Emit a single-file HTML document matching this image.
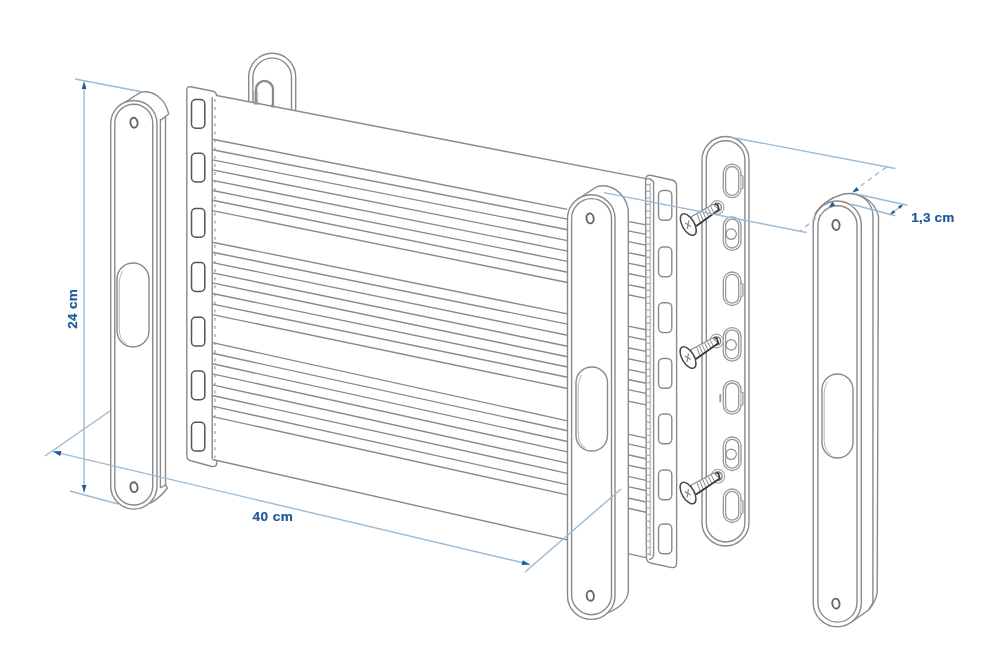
<!DOCTYPE html>
<html><head><meta charset="utf-8"><style>
html,body{margin:0;padding:0;background:#fff;}
svg{display:block;filter:blur(0.3px);}
</style></head><body>
<svg width="1000" height="663" viewBox="0 0 1000 663">
<rect width="1000" height="663" fill="#fff"/>
<line x1="216.5" y1="95.47" x2="646" y2="178.58" stroke="#8a8a8a" stroke-width="1.4" fill="none"/>
<line x1="212.5" y1="139.2" x2="567.5" y2="209.4" stroke="#8a8a8a" stroke-width="1.4" fill="none"/>
<line x1="628" y1="221.36" x2="646" y2="224.92" stroke="#8a8a8a" stroke-width="1.4" fill="none"/>
<line x1="212.5" y1="149.8" x2="567.5" y2="219.1" stroke="#8a8a8a" stroke-width="1.4" fill="none"/>
<line x1="628" y1="230.91" x2="646" y2="234.42" stroke="#8a8a8a" stroke-width="1.4" fill="none"/>
<line x1="212.5" y1="159.9" x2="567.5" y2="229.7" stroke="#8a8a8a" stroke-width="1.4" fill="none"/>
<line x1="628" y1="241.59" x2="646" y2="245.13" stroke="#8a8a8a" stroke-width="1.4" fill="none"/>
<line x1="212.5" y1="169.9" x2="567.5" y2="240.6" stroke="#8a8a8a" stroke-width="1.4" fill="none"/>
<line x1="628" y1="252.65" x2="646" y2="256.23" stroke="#8a8a8a" stroke-width="1.4" fill="none"/>
<line x1="212.5" y1="180.4" x2="567.5" y2="251.1" stroke="#8a8a8a" stroke-width="1.4" fill="none"/>
<line x1="628" y1="263.15" x2="646" y2="266.73" stroke="#8a8a8a" stroke-width="1.4" fill="none"/>
<line x1="212.5" y1="190.5" x2="567.5" y2="261.4" stroke="#8a8a8a" stroke-width="1.4" fill="none"/>
<line x1="628" y1="273.48" x2="646" y2="277.08" stroke="#8a8a8a" stroke-width="1.4" fill="none"/>
<line x1="212.5" y1="200.3" x2="567.5" y2="272.3" stroke="#8a8a8a" stroke-width="1.4" fill="none"/>
<line x1="628" y1="284.57" x2="646" y2="288.22" stroke="#8a8a8a" stroke-width="1.4" fill="none"/>
<line x1="212.5" y1="210.6" x2="567.5" y2="282.5" stroke="#8a8a8a" stroke-width="1.4" fill="none"/>
<line x1="628" y1="294.76" x2="646" y2="298.4" stroke="#8a8a8a" stroke-width="1.4" fill="none"/>
<line x1="212.5" y1="242.2" x2="567.5" y2="313.9" stroke="#8a8a8a" stroke-width="1.4" fill="none"/>
<line x1="628" y1="326.12" x2="646" y2="329.76" stroke="#8a8a8a" stroke-width="1.4" fill="none"/>
<line x1="212.5" y1="252.3" x2="567.5" y2="324.1" stroke="#8a8a8a" stroke-width="1.4" fill="none"/>
<line x1="628" y1="336.34" x2="646" y2="339.98" stroke="#8a8a8a" stroke-width="1.4" fill="none"/>
<line x1="212.5" y1="262.6" x2="567.5" y2="335.3" stroke="#8a8a8a" stroke-width="1.4" fill="none"/>
<line x1="628" y1="347.69" x2="646" y2="351.38" stroke="#8a8a8a" stroke-width="1.4" fill="none"/>
<line x1="212.5" y1="272.9" x2="567.5" y2="346.2" stroke="#8a8a8a" stroke-width="1.4" fill="none"/>
<line x1="628" y1="358.7" x2="646" y2="362.41" stroke="#8a8a8a" stroke-width="1.4" fill="none"/>
<line x1="212.5" y1="282.9" x2="567.5" y2="356.8" stroke="#8a8a8a" stroke-width="1.4" fill="none"/>
<line x1="628" y1="369.4" x2="646" y2="373.15" stroke="#8a8a8a" stroke-width="1.4" fill="none"/>
<line x1="212.5" y1="293.5" x2="567.5" y2="367" stroke="#8a8a8a" stroke-width="1.4" fill="none"/>
<line x1="628" y1="379.53" x2="646" y2="383.26" stroke="#8a8a8a" stroke-width="1.4" fill="none"/>
<line x1="212.5" y1="304.1" x2="567.5" y2="377.2" stroke="#8a8a8a" stroke-width="1.4" fill="none"/>
<line x1="628" y1="389.66" x2="646" y2="393.37" stroke="#8a8a8a" stroke-width="1.4" fill="none"/>
<line x1="212.5" y1="314.6" x2="567.5" y2="388.5" stroke="#8a8a8a" stroke-width="1.4" fill="none"/>
<line x1="628" y1="401.1" x2="646" y2="404.85" stroke="#8a8a8a" stroke-width="1.4" fill="none"/>
<line x1="212.5" y1="342.69" x2="567.5" y2="420.81" stroke="#8a8a8a" stroke-width="1.4" fill="none"/>
<line x1="628" y1="434.12" x2="646" y2="438.08" stroke="#8a8a8a" stroke-width="1.4" fill="none"/>
<line x1="212.5" y1="353.29" x2="567.5" y2="430.71" stroke="#8a8a8a" stroke-width="1.4" fill="none"/>
<line x1="628" y1="443.9" x2="646" y2="447.83" stroke="#8a8a8a" stroke-width="1.4" fill="none"/>
<line x1="212.5" y1="363.79" x2="567.5" y2="441.51" stroke="#8a8a8a" stroke-width="1.4" fill="none"/>
<line x1="628" y1="454.75" x2="646" y2="458.7" stroke="#8a8a8a" stroke-width="1.4" fill="none"/>
<line x1="212.5" y1="373.89" x2="567.5" y2="451.81" stroke="#8a8a8a" stroke-width="1.4" fill="none"/>
<line x1="628" y1="465.09" x2="646" y2="469.04" stroke="#8a8a8a" stroke-width="1.4" fill="none"/>
<line x1="212.5" y1="384.89" x2="567.5" y2="463.11" stroke="#8a8a8a" stroke-width="1.4" fill="none"/>
<line x1="628" y1="476.44" x2="646" y2="480.41" stroke="#8a8a8a" stroke-width="1.4" fill="none"/>
<line x1="212.5" y1="395.49" x2="567.5" y2="473.31" stroke="#8a8a8a" stroke-width="1.4" fill="none"/>
<line x1="628" y1="486.57" x2="646" y2="490.52" stroke="#8a8a8a" stroke-width="1.4" fill="none"/>
<line x1="212.5" y1="406.09" x2="567.5" y2="484.61" stroke="#8a8a8a" stroke-width="1.4" fill="none"/>
<line x1="628" y1="497.99" x2="646" y2="501.97" stroke="#8a8a8a" stroke-width="1.4" fill="none"/>
<line x1="212.5" y1="416.59" x2="567.5" y2="494.91" stroke="#8a8a8a" stroke-width="1.4" fill="none"/>
<line x1="628" y1="508.26" x2="646" y2="512.23" stroke="#8a8a8a" stroke-width="1.4" fill="none"/>
<line x1="212.5" y1="459.49" x2="567.5" y2="539.86" stroke="#8a8a8a" stroke-width="1.4" fill="none"/>
<line x1="628" y1="553.56" x2="646" y2="557.63" stroke="#8a8a8a" stroke-width="1.4" fill="none"/>
<line x1="212.2" y1="97" x2="212.2" y2="459" stroke="#8a8a8a" stroke-width="1.4" fill="none"/>
<line x1="214.9" y1="99" x2="214.9" y2="458" stroke="#999" stroke-width="1.2" fill="none" stroke-dasharray="3,5.1"/>
<path d="M248.7,102 L248.7,76.8 A23.5,23.5 0 0 1 295.7,76.8 L295.7,110.6" stroke="#8a8a8a" stroke-width="1.4" fill="none"/>
<path d="M252.9,102.8 L252.9,77.4 A19.3,19.3 0 0 1 291.5,77.4 L291.5,110" stroke="#8a8a8a" stroke-width="1.4" fill="none"/>
<path d="M256.2,104.5 L256.2,89.4 A8.3,8.3 0 0 1 272.8,89.4 L272.8,107.5" stroke="#8a8a8a" stroke-width="2.6" fill="none"/>
<path d="M257.6,101.5 L257.6,89.4 A6.9,6.9 0 0 1 271.4,89.4 L271.4,104" stroke="#fff" stroke-width="0.8" fill="none"/>
<line x1="254" y1="91" x2="254" y2="104.5" stroke="#999" stroke-width="0.6"/>
<line x1="255.2" y1="91.3" x2="255.2" y2="104.5" stroke="#999" stroke-width="0.6"/>
<line x1="256.4" y1="91.6" x2="256.4" y2="104.5" stroke="#999" stroke-width="0.6"/>
<line x1="257.6" y1="91.9" x2="257.6" y2="104.5" stroke="#999" stroke-width="0.6"/>
<path d="M186.8,90 Q186.8,86.2 190.5,86.8 L212,91 Q216.6,92 216.6,96" stroke="#8a8a8a" stroke-width="1.4" fill="none"/>
<path d="M186.8,90 L186.8,455.5 Q186.8,459.8 190.8,460.8 L211,466.2 Q216.6,467.5 216.6,463.4 L216.6,460" stroke="#8a8a8a" stroke-width="1.4" fill="none"/>
<rect x="191.5" y="99.5" width="13.3" height="28.8" rx="4.2" stroke="#555" stroke-width="1.5" fill="none"/>
<rect x="191.5" y="153.2" width="13.3" height="28.8" rx="4.2" stroke="#555" stroke-width="1.5" fill="none"/>
<rect x="191.5" y="208.5" width="13.3" height="28.8" rx="4.2" stroke="#555" stroke-width="1.5" fill="none"/>
<rect x="191.5" y="262.6" width="13.3" height="28.8" rx="4.2" stroke="#555" stroke-width="1.5" fill="none"/>
<rect x="191.5" y="317.3" width="13.3" height="28.8" rx="4.2" stroke="#555" stroke-width="1.5" fill="none"/>
<rect x="191.5" y="371" width="13.3" height="28.8" rx="4.2" stroke="#555" stroke-width="1.5" fill="none"/>
<rect x="191.5" y="422.3" width="13.3" height="28.8" rx="4.2" stroke="#555" stroke-width="1.5" fill="none"/>
<path d="M125.4,102 L140.4,92.5 C151,89.5 165,97 168.7,114 L160.4,120.4" stroke="#8a8a8a" stroke-width="1.4" fill="none"/>
<line x1="160.4" y1="119" x2="160.4" y2="488" stroke="#8a8a8a" stroke-width="1.4" fill="none"/>
<line x1="165.5" y1="117" x2="165.5" y2="485.5" stroke="#8a8a8a" stroke-width="1.4" fill="none"/>
<path d="M160.4,488 L165.7,485 L167.3,488 Q161,497 150,503.5" stroke="#8a8a8a" stroke-width="1.4" fill="none"/>
<path d="M110.7,123.65 A23.15,23.15 0 0 1 157,123.65 L157,485.95 A23.15,23.15 0 0 1 110.7,485.95 Z" stroke="#8a8a8a" stroke-width="1.4" fill="none"/>
<path d="M114.8,123.15 A18.95,18.95 0 0 1 152.7,123.15 L152.7,486.05 A18.95,18.95 0 0 1 114.8,486.05 Z" stroke="#8a8a8a" stroke-width="1.4" fill="none"/>
<path d="M117,279 A16,16 0 0 1 149,279 L149,331 A16,16 0 0 1 117,331 Z" stroke="#8a8a8a" stroke-width="1.4" fill="none"/>
<path d="M122.6,271.0 Q119.2,277.4 119.2,283.0 L119.2,329.0 Q119.6,340.6 126.6,343.8" stroke="#b5b5b5" stroke-width="1" fill="none"/>
<ellipse cx="134" cy="122.7" rx="3.6" ry="5.0" transform="rotate(-8 134 122.7)" stroke="#666" stroke-width="1.9" fill="none"/>
<ellipse cx="134" cy="487.2" rx="3.6" ry="5.0" transform="rotate(-8 134 487.2)" stroke="#666" stroke-width="1.9" fill="none"/>
<rect x="567.5" y="190" width="60" height="425" fill="#fff"/>
<path d="M582.5,196 L597,186.6 C610,183 625,192 628.3,209.8 L628.3,591.5 C627.5,600 620,608 606.8,613.2" stroke="#8a8a8a" stroke-width="1.4" fill="none"/>
<path d="M567.5,218.55 A23.75,23.75 0 0 1 615,218.55 L615,595.65 A23.75,23.75 0 0 1 567.5,595.65 Z" stroke="#8a8a8a" stroke-width="1.4" fill="none"/>
<path d="M571.6,218.55 A19.95,19.95 0 0 1 611.5,218.55 L611.5,594.75 A19.95,19.95 0 0 1 571.6,594.75 Z" stroke="#8a8a8a" stroke-width="1.4" fill="none"/>
<path d="M576,382.75 A15.75,15.75 0 0 1 607.5,382.75 L607.5,435.25 A15.75,15.75 0 0 1 576,435.25 Z" stroke="#8a8a8a" stroke-width="1.4" fill="none"/>
<path d="M581.5,374.9 Q578.2,381.2 578.2,386.8 L578.2,433.2 Q578.6,444.7 585.5,447.9" stroke="#b5b5b5" stroke-width="1" fill="none"/>
<ellipse cx="590.1" cy="218.4" rx="3.6" ry="5.0" transform="rotate(-8 590.1 218.4)" stroke="#666" stroke-width="1.9" fill="none"/>
<ellipse cx="590.3" cy="595.8" rx="3.6" ry="5.0" transform="rotate(-8 590.3 595.8)" stroke="#666" stroke-width="1.9" fill="none"/>
<path d="M645.6,180 Q645.6,174.8 650.5,175.3 L672,180 Q676.6,181 676.6,186 L676.6,563 Q676.6,568.2 671.7,567.6 L650.5,563 Q646.4,562 646.4,557 Z" fill="#fff" stroke="#8a8a8a" stroke-width="1.4" fill="none"/>
<line x1="650.2" y1="183" x2="650.2" y2="556" stroke="#aaa" stroke-width="1.1"/>
<line x1="648" y1="184" x2="648" y2="556" stroke="#b0b0b0" stroke-width="4" stroke-dasharray="1.3,5.3"/>
<path d="M645.6,180 Q649,176.5 653.6,182 L653.6,554 Q653.6,559 649,559.5" stroke="#8a8a8a" stroke-width="1.4" fill="none"/>
<rect x="658.5" y="190.5" width="13.3" height="29.8" rx="4.5" stroke="#8a8a8a" stroke-width="1.4" fill="none"/>
<rect x="658.5" y="247" width="13.3" height="29.8" rx="4.5" stroke="#8a8a8a" stroke-width="1.4" fill="none"/>
<rect x="658.5" y="302.8" width="13.3" height="29.8" rx="4.5" stroke="#8a8a8a" stroke-width="1.4" fill="none"/>
<rect x="658.5" y="358.5" width="13.3" height="29.8" rx="4.5" stroke="#8a8a8a" stroke-width="1.4" fill="none"/>
<rect x="658.5" y="414" width="13.3" height="29.8" rx="4.5" stroke="#8a8a8a" stroke-width="1.4" fill="none"/>
<rect x="658.5" y="470" width="13.3" height="29.8" rx="4.5" stroke="#8a8a8a" stroke-width="1.4" fill="none"/>
<rect x="658.5" y="524" width="13.3" height="29.8" rx="4.5" stroke="#8a8a8a" stroke-width="1.4" fill="none"/>
<path d="M702,160 A23.5,23.5 0 0 1 749,160 L749,522.5 A23.5,23.5 0 0 1 702,522.5 Z" stroke="#8a8a8a" stroke-width="1.4" fill="none"/>
<path d="M706.3,160 A19.3,19.3 0 0 1 744.9,160 L744.9,522.7 A19.3,19.3 0 0 1 706.3,522.7 Z" stroke="#8a8a8a" stroke-width="1.4" fill="none"/>
<path d="M723.3,173.05 A8.85,8.85 0 0 1 741,173.05 L741,188.85 A8.85,8.85 0 0 1 723.3,188.85 Z" stroke="#999" stroke-width="1.3" fill="none"/>
<path d="M725.6,173.05 A6.55,6.55 0 0 1 738.7,173.05 L738.7,188.85 A6.55,6.55 0 0 1 725.6,188.85 Z" stroke="#999" stroke-width="1.3" fill="none"/>
<path d="M740.5,175.2 L743,176.2 L743,188.2 L740.5,189.2" stroke="#999" stroke-width="1.1" fill="#ddd"/>
<path d="M723.3,225.65 A8.85,8.85 0 0 1 741,225.65 L741,241.45 A8.85,8.85 0 0 1 723.3,241.45 Z" stroke="#999" stroke-width="1.3" fill="none"/>
<path d="M725.6,225.65 A6.55,6.55 0 0 1 738.7,225.65 L738.7,241.45 A6.55,6.55 0 0 1 725.6,241.45 Z" stroke="#999" stroke-width="1.3" fill="none"/>
<circle cx="731.2" cy="234.1" r="5.2" stroke="#8c8c8c" stroke-width="1.2" fill="none"/>
<path d="M723.3,280.85 A8.85,8.85 0 0 1 741,280.85 L741,296.65 A8.85,8.85 0 0 1 723.3,296.65 Z" stroke="#999" stroke-width="1.3" fill="none"/>
<path d="M725.6,280.85 A6.55,6.55 0 0 1 738.7,280.85 L738.7,296.65 A6.55,6.55 0 0 1 725.6,296.65 Z" stroke="#999" stroke-width="1.3" fill="none"/>
<path d="M740.5,283 L743,284 L743,296 L740.5,297" stroke="#999" stroke-width="1.1" fill="#ddd"/>
<path d="M723.3,336.45 A8.85,8.85 0 0 1 741,336.45 L741,352.25 A8.85,8.85 0 0 1 723.3,352.25 Z" stroke="#999" stroke-width="1.3" fill="none"/>
<path d="M725.6,336.45 A6.55,6.55 0 0 1 738.7,336.45 L738.7,352.25 A6.55,6.55 0 0 1 725.6,352.25 Z" stroke="#999" stroke-width="1.3" fill="none"/>
<circle cx="731.2" cy="344.9" r="5.2" stroke="#8c8c8c" stroke-width="1.2" fill="none"/>
<path d="M723.3,389.55 A8.85,8.85 0 0 1 741,389.55 L741,405.35 A8.85,8.85 0 0 1 723.3,405.35 Z" stroke="#999" stroke-width="1.3" fill="none"/>
<path d="M725.6,389.55 A6.55,6.55 0 0 1 738.7,389.55 L738.7,405.35 A6.55,6.55 0 0 1 725.6,405.35 Z" stroke="#999" stroke-width="1.3" fill="none"/>
<path d="M740.5,391.7 L743,392.7 L743,404.7 L740.5,405.7" stroke="#999" stroke-width="1.1" fill="#ddd"/>
<path d="M723.3,445.85 A8.85,8.85 0 0 1 741,445.85 L741,461.65 A8.85,8.85 0 0 1 723.3,461.65 Z" stroke="#999" stroke-width="1.3" fill="none"/>
<path d="M725.6,445.85 A6.55,6.55 0 0 1 738.7,445.85 L738.7,461.65 A6.55,6.55 0 0 1 725.6,461.65 Z" stroke="#999" stroke-width="1.3" fill="none"/>
<circle cx="731.2" cy="454.3" r="5.2" stroke="#8c8c8c" stroke-width="1.2" fill="none"/>
<path d="M723.3,497.85 A8.85,8.85 0 0 1 741,497.85 L741,513.65 A8.85,8.85 0 0 1 723.3,513.65 Z" stroke="#999" stroke-width="1.3" fill="none"/>
<path d="M725.6,497.85 A6.55,6.55 0 0 1 738.7,497.85 L738.7,513.65 A6.55,6.55 0 0 1 725.6,513.65 Z" stroke="#999" stroke-width="1.3" fill="none"/>
<path d="M740.5,500 L743,501 L743,513 L740.5,514" stroke="#999" stroke-width="1.1" fill="#ddd"/>
<path d="M720.3,394 L720.3,402.4" stroke="#999" stroke-width="1.8"/>
<circle cx="717.2" cy="207.4" r="6.8" stroke="#aaa" stroke-width="1.2" fill="#fff"/>
<circle cx="717.2" cy="207.4" r="4.2" stroke="#777" stroke-width="1.3" fill="none"/>
<path d="M690.8,217 L713.2,204.2 L719,209.6 L696.3,226 Z" fill="#fff" stroke="#888" stroke-width="1.1"/>
<line x1="697.23" y1="214.18" x2="700.29" y2="222.39" stroke="#888" stroke-width="1"/>
<line x1="699.92" y1="212.65" x2="703.02" y2="220.42" stroke="#888" stroke-width="1"/>
<line x1="702.6" y1="211.11" x2="705.74" y2="218.46" stroke="#888" stroke-width="1"/>
<line x1="705.29" y1="209.58" x2="708.47" y2="216.49" stroke="#888" stroke-width="1"/>
<line x1="707.98" y1="208.04" x2="711.19" y2="214.52" stroke="#888" stroke-width="1"/>
<line x1="710.67" y1="206.5" x2="713.91" y2="212.55" stroke="#888" stroke-width="1"/>
<path d="M696.3,226 L719,209.6 L717.7,204.9 L715.2,203.9" stroke="#333" stroke-width="1.6" fill="none"/>
<ellipse cx="688.3" cy="224.5" rx="6" ry="12" transform="rotate(-30 688.3 224.5)" fill="#fff" stroke="#4a4a4a" stroke-width="1.5"/>
<path d="M685.1,223 L691.1,226.5 M688.8,220.5 L687.3,229" stroke="#888" stroke-width="1.3"/>
<circle cx="716.5" cy="341" r="6.8" stroke="#aaa" stroke-width="1.2" fill="#fff"/>
<circle cx="716.5" cy="341" r="4.2" stroke="#777" stroke-width="1.3" fill="none"/>
<path d="M690.5,350 L712.5,337.8 L718.3,343.2 L696,359 Z" fill="#fff" stroke="#888" stroke-width="1.1"/>
<line x1="696.84" y1="347.32" x2="699.91" y2="355.52" stroke="#888" stroke-width="1"/>
<line x1="699.48" y1="345.85" x2="702.58" y2="353.63" stroke="#888" stroke-width="1"/>
<line x1="702.12" y1="344.39" x2="705.26" y2="351.73" stroke="#888" stroke-width="1"/>
<line x1="704.76" y1="342.92" x2="707.93" y2="349.84" stroke="#888" stroke-width="1"/>
<line x1="707.4" y1="341.46" x2="710.61" y2="347.94" stroke="#888" stroke-width="1"/>
<line x1="710.04" y1="340" x2="713.29" y2="346.04" stroke="#888" stroke-width="1"/>
<path d="M696,359 L718.3,343.2 L717,338.5 L714.5,337.5" stroke="#333" stroke-width="1.6" fill="none"/>
<ellipse cx="688" cy="357.5" rx="6" ry="12" transform="rotate(-30 688 357.5)" fill="#fff" stroke="#4a4a4a" stroke-width="1.5"/>
<path d="M684.8,356 L690.8,359.5 M688.5,353.5 L687,362" stroke="#888" stroke-width="1.3"/>
<circle cx="718" cy="476.2" r="6.8" stroke="#aaa" stroke-width="1.2" fill="#fff"/>
<circle cx="718" cy="476.2" r="4.2" stroke="#777" stroke-width="1.3" fill="none"/>
<path d="M690.5,485.5 L714,473 L719.8,478.4 L696,494.5 Z" fill="#fff" stroke="#888" stroke-width="1.1"/>
<line x1="697.17" y1="482.75" x2="700.24" y2="490.96" stroke="#888" stroke-width="1"/>
<line x1="699.99" y1="481.25" x2="703.09" y2="489.03" stroke="#888" stroke-width="1"/>
<line x1="702.81" y1="479.75" x2="705.95" y2="487.09" stroke="#888" stroke-width="1"/>
<line x1="705.63" y1="478.25" x2="708.8" y2="485.16" stroke="#888" stroke-width="1"/>
<line x1="708.45" y1="476.75" x2="711.66" y2="483.23" stroke="#888" stroke-width="1"/>
<line x1="711.27" y1="475.25" x2="714.52" y2="481.3" stroke="#888" stroke-width="1"/>
<path d="M696,494.5 L719.8,478.4 L718.5,473.7 L716,472.7" stroke="#333" stroke-width="1.6" fill="none"/>
<ellipse cx="688" cy="493" rx="6" ry="12" transform="rotate(-30 688 493)" fill="#fff" stroke="#4a4a4a" stroke-width="1.5"/>
<path d="M684.8,491.5 L690.8,495 M688.5,489 L687,497.5" stroke="#888" stroke-width="1.3"/>
<path d="M815,214 C820,205 832,197 842,194.5 C855,191 875,198 878.5,216.8 L877.2,592.9 C875.5,602 871,607 868.6,610 L852.9,621" stroke="#8a8a8a" stroke-width="1.4" fill="none"/>
<path d="M855.6,194.4 C866,197 872,205 873,215.6 L872.9,603.2 L869,609.2" stroke="#8a8a8a" stroke-width="1.4" fill="none"/>
<path d="M813.2,225.05 A24.05,24.05 0 0 1 861.3,225.05 L861.3,602.75 A24.05,24.05 0 0 1 813.2,602.75 Z" stroke="#8a8a8a" stroke-width="1.4" fill="none"/>
<path d="M817.9,225.35 A19.55,19.55 0 0 1 857,225.35 L857,602.55 A19.55,19.55 0 0 1 817.9,602.55 Z" stroke="#8a8a8a" stroke-width="1.4" fill="none"/>
<path d="M822,389.5 A15.5,15.5 0 0 1 853,389.5 L853,442.5 A15.5,15.5 0 0 1 822,442.5 Z" stroke="#8a8a8a" stroke-width="1.4" fill="none"/>
<path d="M827.4,381.8 Q824.2,387.9 824.2,393.5 L824.2,440.5 Q824.6,451.8 831.3,454.9" stroke="#b5b5b5" stroke-width="1" fill="none"/>
<ellipse cx="836" cy="225" rx="3.6" ry="5.0" transform="rotate(-8 836 225)" stroke="#666" stroke-width="1.9" fill="none"/>
<ellipse cx="835.9" cy="603.6" rx="3.6" ry="5.0" transform="rotate(-8 835.9 603.6)" stroke="#666" stroke-width="1.9" fill="none"/>
<line x1="84.1" y1="84" x2="84.1" y2="491" stroke="#9dbbd3" stroke-width="1.4" fill="none"/>
<path d="M84.1,81 L86.4,89 L81.8,89 Z" fill="#1c5a96"/>
<path d="M84.1,493 L81.8,485 L86.4,485 Z" fill="#1c5a96"/>
<line x1="75" y1="79" x2="143" y2="92" stroke="#9dbbd3" stroke-width="1.4" fill="none"/>
<line x1="70" y1="491" x2="118" y2="504" stroke="#9dbbd3" stroke-width="1.4" fill="none"/>
<line x1="53" y1="451.6" x2="530" y2="564.5" stroke="#9dbbd3" stroke-width="1.4" fill="none"/>
<path d="M53,451.6 L61.36,451.01 L60.21,455.88 Z" fill="#1c5a96"/>
<path d="M530,564.5 L521.64,565.09 L522.79,560.22 Z" fill="#1c5a96"/>
<line x1="45" y1="456" x2="110" y2="411" stroke="#9dbbd3" stroke-width="1.4" fill="none"/>
<line x1="525" y1="572" x2="621" y2="489" stroke="#9dbbd3" stroke-width="1.4" fill="none"/>
<line x1="730" y1="137" x2="895.4" y2="168.5" stroke="#9dbbd3" stroke-width="1.4" fill="none"/>
<line x1="603.8" y1="192.6" x2="806.6" y2="232.5" stroke="#9dbbd3" stroke-width="1.4" fill="none"/>
<line x1="886.4" y1="167.2" x2="853" y2="191.4" stroke="#9dbbd3" stroke-width="1.4" fill="none" stroke-dasharray="5,4"/>
<path d="M852.5,192.5 L856.47,186.9 L859.05,190.47 Z" fill="#1c5a96"/>
<line x1="830" y1="207" x2="800" y2="231" stroke="#9dbbd3" stroke-width="1.4" fill="none" stroke-dasharray="5,4"/>
<path d="M828.7,207.5 L832.4,201.72 L835.15,205.16 Z" fill="#1c5a96"/>
<line x1="853" y1="193.2" x2="907.5" y2="205.3" stroke="#9dbbd3" stroke-width="1.4" fill="none"/>
<line x1="850.7" y1="204" x2="895.4" y2="215.8" stroke="#9dbbd3" stroke-width="1.4" fill="none"/>
<line x1="902.7" y1="204.7" x2="890.6" y2="214.3" stroke="#9dbbd3" stroke-width="1.4" fill="none"/>
<path d="M903,204.5 L900.2,209.02 L897.96,206.2 Z" fill="#1c5a96"/>
<path d="M890.3,214.5 L893.1,209.98 L895.34,212.8 Z" fill="#1c5a96"/>
<text x="0" y="0" transform="translate(77.0,328.8) rotate(-90)" font-family="Liberation Sans" font-weight="bold" font-size="13.6" stroke="#1c5a96" stroke-width="0.2" letter-spacing="0.3" fill="#1c5a96">24 cm</text>
<text x="252.6" y="521.3" font-family="Liberation Sans" font-weight="bold" font-size="13.6" stroke="#1c5a96" stroke-width="0.2" letter-spacing="0.45" fill="#1c5a96">40 cm</text>
<text x="911.3" y="221.8" font-family="Liberation Sans" font-weight="bold" font-size="13.6" stroke="#1c5a96" stroke-width="0.2" letter-spacing="0.15" fill="#1c5a96">1,3 cm</text>
</svg>
</body></html>
